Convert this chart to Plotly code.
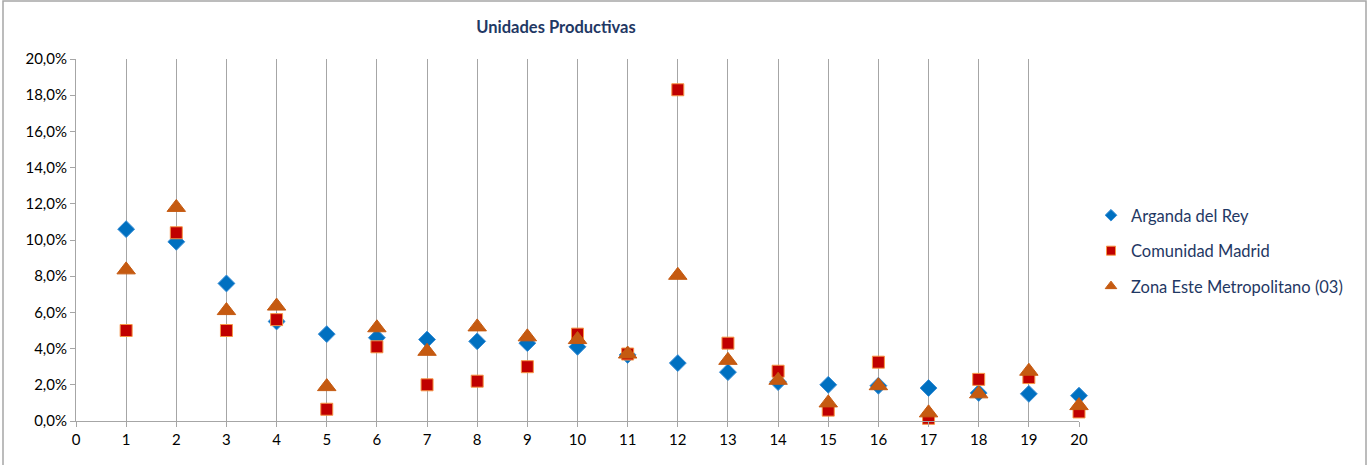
import plotly.graph_objects as go

# rank positions on the x axis
posiciones = list(range(1, 21))

# share of productive units, in percent
arganda = [10.6, 9.9, 7.6, 5.5, 4.8, 4.6, 4.5, 4.4, 4.3, 4.1,
           3.65, 3.2, 2.7, 2.15, 2.0, 1.95, 1.82, 1.55, 1.5, 1.4]
comunidad = [5.0, 10.4, 5.0, 5.6, 0.65, 4.1, 2.0, 2.2, 3.0, 4.8,
             3.7, 18.3, 4.3, 2.75, 0.6, 3.25, 0.15, 2.3, 2.4, 0.5]
zona_este = [8.35, 11.8, 6.1, 6.35, 1.9, 5.15, 3.85, 5.2, 4.65, 4.5,
             3.7, 8.05, 3.35, 2.25, 1.0, 1.95, 0.45, 1.5, 2.75, 0.85]

nombres = ["Arganda del Rey", "Comunidad Madrid", "Zona Este Metropolitano (03)"]

estilos = [
    dict(symbol="diamond", size=13, color="#0070C0", line=dict(color="#3A8FD6", width=1)),
    dict(symbol="square", size=12, color="#C00000", line=dict(color="#F79646", width=1)),
    dict(symbol="triangle-up", size=16, color="#C55A11", line=dict(color="#C55A11", width=1)),
]
leyenda_tam = [9, 9, 10]

fig = go.Figure()

for nombre, valores, estilo in zip(nombres, [arganda, comunidad, zona_este], estilos):
    fig.add_trace(go.Scatter(x=posiciones, y=valores, name=nombre, mode="markers",
                             marker=estilo, showlegend=False, cliponaxis=False))

# smaller markers for the legend, like the original
for i, (nombre, estilo) in enumerate(zip(nombres, estilos)):
    m = dict(estilo)
    m["size"] = leyenda_tam[i]
    fig.add_trace(go.Scatter(x=[None], y=[None], name=nombre, mode="markers",
                             marker=m, legendgroup=f"g{i}"))

fig.update_layout(
    width=1372, height=465, autosize=False,
    margin=dict(l=76, r=293, t=59, b=44, autoexpand=False),
    paper_bgcolor="white", plot_bgcolor="white",
    separators=",.",
    font=dict(family="Lato, Carlito, sans-serif", size=15, color="#000000"),
    title=dict(text="<b>Unidades Productivas</b>", x=556 / 1372, xanchor="center",
               y=1 - 27 / 465, yanchor="middle",
               font=dict(size=16.5, color="#1F3864")),
    xaxis=dict(range=[0, 20], dtick=1, tick0=0, showgrid=True,
               gridcolor="#A6A6A6", gridwidth=1, zeroline=False,
               showline=True, linecolor="#A6A6A6", linewidth=1,
               ticks="outside", ticklen=5, tickcolor="#A6A6A6",
               tickfont=dict(size=15, color="#000000")),
    yaxis=dict(range=[0, 20], dtick=2, tickformat=".1f", ticksuffix="%",
               showgrid=False, zeroline=False,
               showline=True, linecolor="#A6A6A6", linewidth=1,
               ticks="outside", ticklen=5, tickcolor="#A6A6A6",
               tickfont=dict(size=15, color="#000000")),
    legend=dict(x=1091 / 1372, xref="container", y=1 - 251 / 465, yref="container",
                xanchor="left", yanchor="middle", tracegroupgap=11,
                font=dict(size=16.5, color="#1F3864"), itemwidth=30),
    showlegend=True,
)

fig.add_shape(type="rect", xref="paper", yref="paper",
              x0=-73 / 1003, x1=(1366 - 76) / 1003,
              y0=-100 / 362, y1=(421 - 1) / 362,
              line=dict(color="#A6A6A6", width=1.5), layer="below")

fig.write_html(
    "out.html",
    config={"displayModeBar": False, "responsive": False},
    post_script="document.documentElement.style.overflow='hidden';"
                "document.body.style.overflow='hidden';"
                "document.body.style.margin='0';",
)
